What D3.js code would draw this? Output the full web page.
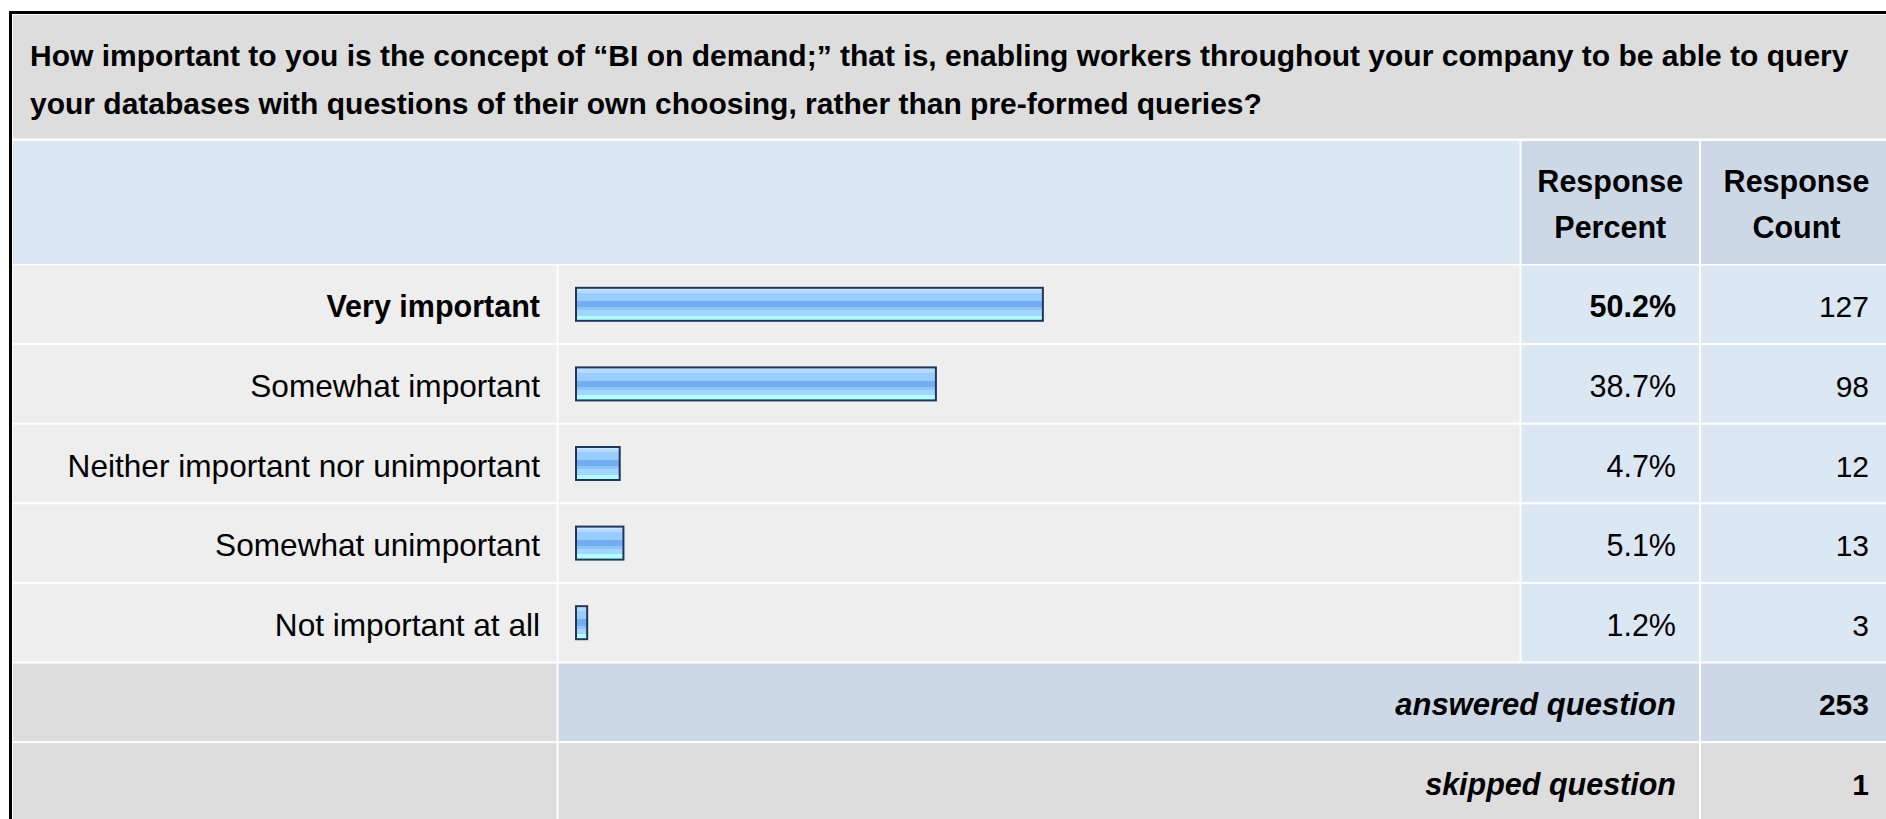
<!DOCTYPE html>
<html>
<head>
<meta charset="utf-8">
<script src="https://cdn.jsdelivr.net/npm/d3@7"></script>
<style>
  html, body { margin: 0; padding: 0; background: #ffffff; overflow: hidden; }
  svg text { font-family: "Liberation Sans", Arial, Helvetica, sans-serif; fill: #000; }
</style>
</head>
<body>
<svg id="chart" width="1886" height="819"></svg>
<script>
// Survey question and answer data
const titleLines = [
  "How important to you is the concept of \u201CBI on demand;\u201D that is, enabling workers throughout your company to be able to query",
  "your databases with questions of their own choosing, rather than pre-formed queries?"
];
const categories = [
  "Very important",
  "Somewhat important",
  "Neither important nor unimportant",
  "Somewhat unimportant",
  "Not important at all"
];
const percents = [50.2, 38.7, 4.7, 5.1, 1.2];
const counts = [127, 98, 12, 13, 3];
const percentHeader = ["Response", "Percent"];
const countHeader = ["Response", "Count"];
const summaryLabels = ["answered question", "skipped question"];
const summaryValues = [253, 1];

const W = 1886, H = 819;
const svg = d3.select("#chart");

// column edges
const col = {
  labelL: 13, labelR: 556.5,
  barL: 558.5, barR: 1519.5,
  pctL: 1521.5, pctR: 1699,
  cntL: 1701, cntR: 1910
};

const C = {
  title: "#dddddd",
  headLight: "#dce7f4",
  headDark: "#ccd8e6",
  rowGrey: "#eeeeee",
  rowBlue: "#dce7f4",
  summaryGrey: "#dddddd",
  summaryBlue: "#ccd8e6",
  barStroke: "#1d3659"
};

// rows: 5 answer rows + 2 summary rows
const rowIds = d3.range(categories.length + summaryLabels.length);
const y = d3.scaleBand().domain(rowIds).range([264.5, 264.5 + rowIds.length * 79.6]);
const rowTop = i => y(i) + 1;
const rowH = y.bandwidth() - 2;
const rowMid = i => y(i) + y.bandwidth() / 2;

// percentage -> bar length
const x = d3.scaleLinear().domain([0, 100]).range([0, 930]);
const barX0 = 575;
const barH = 33;

// gradient used for the bar fill
const defs = svg.append("defs");
const grad = defs.append("linearGradient").attr("id", "barFill")
  .attr("x1", 0).attr("x2", 0).attr("y1", 0).attr("y2", 1);
const bands = [
  [0.00, 0.06, "#cfe7ff"],
  [0.06, 0.16, "#b3d9ff"],
  [0.16, 0.40, "#99ccff"],
  [0.40, 0.59, "#72adef"],
  [0.59, 0.68, "#8cc4fc"],
  [0.68, 0.84, "#a3d6ff"],
  [0.84, 1.00, "#b3ffff"]
];
bands.forEach(([a, b, c]) => {
  grad.append("stop").attr("offset", a).attr("stop-color", c);
  grad.append("stop").attr("offset", b).attr("stop-color", c);
});

// outer frame
svg.append("rect").attr("x", 0).attr("y", 0).attr("width", W).attr("height", H).attr("fill", "#ffffff");
svg.append("path")
  .attr("d", `M10.5,${H + 5} V12.5 H${W + 5}`)
  .attr("fill", "none").attr("stroke", "#000").attr("stroke-width", 3);

// title cell
svg.append("rect").attr("x", col.labelL).attr("y", 15)
  .attr("width", col.cntR - col.labelL).attr("height", 138.5 - 15).attr("fill", C.title);
svg.append("g").selectAll("text").data(titleLines).join("text")
  .attr("x", 30).attr("y", (d, i) => 66 + i * 48)
  .attr("font-size", 30).attr("font-weight", "bold")
  .text(d => d);

// header row
const headTop = 141, headBot = 264;
svg.append("rect").attr("x", col.labelL).attr("y", headTop)
  .attr("width", col.barR - col.labelL).attr("height", headBot - headTop).attr("fill", C.headLight);
[[col.pctL, col.pctR, percentHeader], [col.cntL, col.cntR, countHeader]].forEach(([l, r, lines]) => {
  svg.append("rect").attr("x", l).attr("y", headTop)
    .attr("width", r - l).attr("height", headBot - headTop).attr("fill", C.headDark);
  const cx = l === col.cntL ? col.cntL + (1892 - col.cntL) / 2 : (l + r) / 2;
  svg.append("g").selectAll("text").data(lines).join("text")
    .attr("x", cx).attr("y", (d, i) => 192 + i * 45.6)
    .attr("text-anchor", "middle").attr("font-size", 30.5).attr("font-weight", "bold")
    .text(d => d);
});

// answer rows
const rows = svg.append("g").selectAll("g").data(categories).join("g");
rows.append("rect").attr("x", col.labelL).attr("y", (d, i) => rowTop(i))
  .attr("width", col.labelR - col.labelL).attr("height", rowH).attr("fill", C.rowGrey);
rows.append("rect").attr("x", col.barL).attr("y", (d, i) => rowTop(i))
  .attr("width", col.barR - col.barL).attr("height", rowH).attr("fill", C.rowGrey);
rows.append("rect").attr("x", col.pctL).attr("y", (d, i) => rowTop(i))
  .attr("width", col.pctR - col.pctL).attr("height", rowH).attr("fill", C.rowBlue);
rows.append("rect").attr("x", col.cntL).attr("y", (d, i) => rowTop(i))
  .attr("width", col.cntR - col.cntL).attr("height", rowH).attr("fill", C.rowBlue);

// leading row (largest share) is set in bold
const topIdx = d3.maxIndex(percents);

rows.append("text")
  .attr("x", 540).attr("y", (d, i) => rowMid(i) + 13)
  .attr("text-anchor", "end").attr("font-size", (d, i) => i === topIdx ? 30.5 : 31.6)
  .attr("font-weight", (d, i) => i === topIdx ? "bold" : "normal")
  .text(d => d);

rows.append("rect")
  .attr("x", barX0 + 1).attr("y", (d, i) => rowMid(i) - barH / 2)
  .attr("width", (d, i) => x(percents[i])).attr("height", barH)
  .attr("fill", "url(#barFill)").attr("stroke", C.barStroke).attr("stroke-width", 2);

rows.append("text")
  .attr("x", 1676).attr("y", (d, i) => rowMid(i) + 13)
  .attr("text-anchor", "end").attr("font-size", 30.5)
  .attr("font-weight", (d, i) => i === topIdx ? "bold" : "normal")
  .text((d, i) => d3.format(".1f")(percents[i]) + "%");

rows.append("text")
  .attr("x", 1869).attr("y", (d, i) => rowMid(i) + 13)
  .attr("text-anchor", "end").attr("font-size", 30)
  .text((d, i) => counts[i]);

// summary rows
const sum = svg.append("g").selectAll("g").data(summaryLabels).join("g");
const si = i => categories.length + i;
sum.append("rect").attr("x", col.labelL).attr("y", (d, i) => rowTop(si(i)))
  .attr("width", col.labelR - col.labelL).attr("height", rowH).attr("fill", C.summaryGrey);
sum.append("rect").attr("x", col.barL).attr("y", (d, i) => rowTop(si(i)))
  .attr("width", col.pctR - col.barL).attr("height", rowH)
  .attr("fill", (d, i) => i === 0 ? C.summaryBlue : C.summaryGrey);
sum.append("rect").attr("x", col.cntL).attr("y", (d, i) => rowTop(si(i)))
  .attr("width", col.cntR - col.cntL).attr("height", rowH)
  .attr("fill", (d, i) => i === 0 ? C.summaryBlue : C.summaryGrey);
sum.append("text")
  .attr("x", 1676).attr("y", (d, i) => rowMid(si(i)) + 13)
  .attr("text-anchor", "end").attr("font-size", (d, i) => i === 0 ? 31 : 30.5)
  .attr("font-weight", "bold").attr("font-style", "italic")
  .text(d => d);
sum.append("text")
  .attr("x", 1869).attr("y", (d, i) => rowMid(si(i)) + 13)
  .attr("text-anchor", "end").attr("font-size", 30).attr("font-weight", "bold")
  .text((d, i) => summaryValues[i]);
</script>
</body>
</html>
